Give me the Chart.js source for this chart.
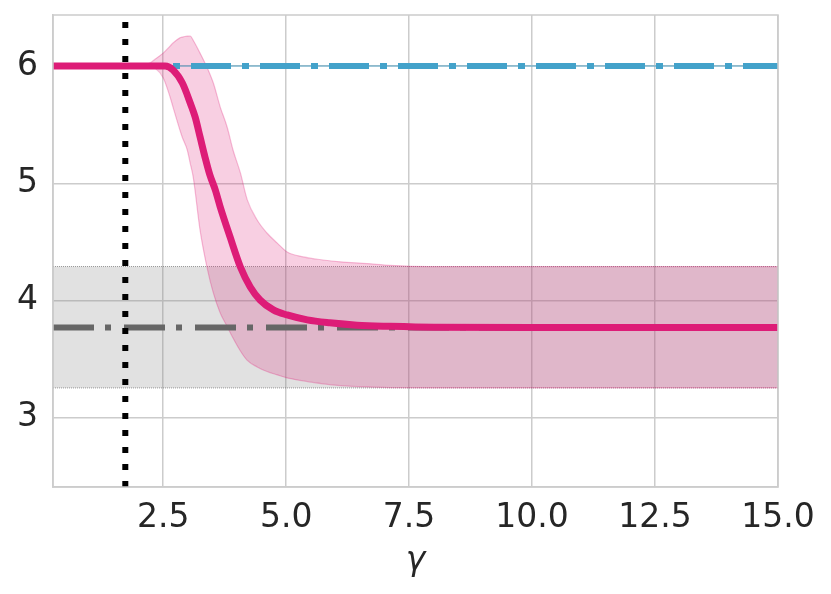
<!DOCTYPE html>
<html>
<head>
<meta charset="utf-8">
<script src="https://cdn.jsdelivr.net/npm/chart.js@4"></script>
<style>
html,body{margin:0;padding:0;background:#fff;}
#wrap{width:831px;height:594px;position:relative;}
</style>
</head>
<body>
<div id="wrap"><canvas id="c"></canvas></div>
<script>
// ---- data ----
const meanGamma = [0.26, 2.3, 2.54, 2.70, 2.89, 3.05, 3.15, 3.25, 3.35, 3.45, 3.56, 3.66, 3.86, 4.07, 4.27, 4.47, 4.74, 5.02, 5.43, 5.89, 6.44, 7.11, 8.0, 10.0, 15.0];
const meanValues = [6.0, 6.0, 6.0, 5.966, 5.855, 5.685, 5.565, 5.395, 5.224, 5.07, 4.943, 4.798, 4.542, 4.286, 4.116, 4.005, 3.92, 3.877, 3.835, 3.81, 3.79, 3.78, 3.772, 3.77, 3.77];

const bandGamma = [0.26, 2.2, 2.34, 2.5, 2.64, 2.7, 2.84, 2.89, 2.99, 3.05, 3.11, 3.25, 3.39, 3.52, 3.66, 3.80, 3.92, 4.07, 4.21, 4.41, 4.61, 4.82, 5.02, 5.35, 5.75, 6.10, 6.65, 7.11, 7.9, 9.0, 11.0, 13.0, 15.0];
const bandUpper = [6.0, 6.02, 6.06, 6.11, 6.17, 6.196, 6.24, 6.247, 6.255, 6.256, 6.22, 6.11, 5.99, 5.855, 5.65, 5.48, 5.284, 5.088, 4.858, 4.687, 4.576, 4.49, 4.414, 4.372, 4.346, 4.33, 4.315, 4.30, 4.29, 4.29, 4.29, 4.29, 4.29];
const bandLower = [6.0, 6.0, 5.98, 5.90, 5.736, 5.65, 5.454, 5.39, 5.284, 5.17, 5.054, 4.60, 4.286, 4.065, 3.894, 3.78, 3.68, 3.57, 3.49, 3.434, 3.395, 3.366, 3.34, 3.315, 3.29, 3.275, 3.263, 3.258, 3.255, 3.255, 3.255, 3.255, 3.255];

const refMean = 3.77;      // grey dash-dot level
const refUpper = 4.29;     // grey band top
const refLower = 3.255;    // grey band bottom
const blueLevel = 6.0;     // blue dash-dot level
const vlineGamma = 1.73;   // black dotted vertical

const xTicks = [2.5, 5.0, 7.5, 10.0, 12.5, 15.0];
const yTicks = [3, 4, 5, 6];
const xRange = [0.26, 15.0];
const yRange = [2.41, 6.435];

// ---- build chart ----
const pts = (xs, ys) => xs.map((x, i) => ({x: x, y: ys[i]}));
const flat = (v) => [{x: xRange[0], y: v}, {x: xRange[1], y: v}];

const PINK = '#dd1c77';
const BLUE = '#43a2ca';

const boxPlugin = {
  id: 'box',
  afterDraw(chart) {
    const a = chart.chartArea, ctx = chart.ctx;
    ctx.save();
    ctx.strokeStyle = '#cccccc';
    ctx.lineWidth = 1.5;
    ctx.strokeRect(a.left, a.top, a.right - a.left, a.bottom - a.top);
    ctx.restore();
  }
};

const FONT = "'DejaVu Sans', sans-serif";
const noPad = (s) => { s.paddingTop = 0; s.paddingBottom = 0; s.paddingLeft = 0; s.paddingRight = 0; };

new Chart(document.getElementById('c'), {
  type: 'line',
  data: {
    datasets: [
      { // black dotted vertical
        data: [{x: vlineGamma, y: yRange[0]}, {x: vlineGamma, y: yRange[1]}],
        borderColor: '#000', borderWidth: 6, borderDash: [6, 11], borderCapStyle: 'butt',
        pointRadius: 0, fill: false, order: 0
      },
      { // pink mean
        data: pts(meanGamma, meanValues),
        borderColor: PINK, borderWidth: 7, pointRadius: 0, fill: false,
        cubicInterpolationMode: 'monotone', order: 1
      },
      { // blue dash-dot thick
        data: flat(blueLevel),
        borderColor: BLUE, borderWidth: 6, borderDash: [40, 11, 7, 11], pointRadius: 0, fill: false, order: 2
      },
      { // blue thin underlay
        data: flat(blueLevel),
        borderColor: 'rgba(67,162,202,0.6)', borderWidth: 1.5, pointRadius: 0, fill: false, order: 3
      },
      { // grey dash-dot
        data: flat(refMean),
        borderColor: '#666666', borderWidth: 6, borderDash: [41, 11, 6, 13], pointRadius: 0, fill: false, order: 4
      },
      { // pink band upper
        data: pts(bandGamma, bandUpper),
        borderColor: 'rgba(221,28,119,0.28)', borderWidth: 1.2, pointRadius: 0,
        cubicInterpolationMode: 'monotone',
        backgroundColor: 'rgba(221,28,119,0.21)', fill: '+1', order: 5
      },
      { // pink band lower
        data: pts(bandGamma, bandLower),
        borderColor: 'rgba(221,28,119,0.28)', borderWidth: 1.2, pointRadius: 0,
        cubicInterpolationMode: 'monotone', fill: false, order: 6
      },
      { // grey band upper
        data: flat(refUpper),
        borderColor: 'rgba(90,90,90,0.6)', borderWidth: 1, borderDash: [1, 1], pointRadius: 0,
        backgroundColor: 'rgba(128,128,128,0.24)', fill: '+1', order: 7
      },
      { // grey band lower
        data: flat(refLower),
        borderColor: 'rgba(90,90,90,0.6)', borderWidth: 1, borderDash: [1, 1], pointRadius: 0, fill: false, order: 8
      }
    ]
  },
  options: {
    responsive: true,
    maintainAspectRatio: false,
    animation: false,
    layout: {padding: {left: 0, top: 15, right: 53, bottom: 0}},
    plugins: {legend: {display: false}, tooltip: {enabled: false}},
    elements: {line: {tension: 0}},
    scales: {
      x: {
        type: 'linear', min: xRange[0], max: xRange[1],
        afterBuildTicks: (s) => { s.ticks = xTicks.map(v => ({value: v})); },
        afterFit: (s) => { s.height = 107; noPad(s); },
        ticks: {
          color: '#262626', font: {family: FONT, size: 33}, padding: 12,
          maxRotation: 0, autoSkip: false,
          callback: (v) => Number(v).toFixed(1)
        },
        grid: {color: '#cccccc', lineWidth: 1.5, drawTicks: false},
        border: {color: '#cccccc', width: 1.5},
        title: {display: true, text: 'γ', color: '#262626',
          font: {family: FONT, size: 33, style: 'italic'}, padding: {top: 0, bottom: 13}}
      },
      y: {
        type: 'linear', min: yRange[0], max: yRange[1],
        afterBuildTicks: (s) => { s.ticks = yTicks.map(v => ({value: v})); },
        afterFit: (s) => { s.width = 53; noPad(s); },
        ticks: {color: '#262626', font: {family: FONT, size: 33}, padding: 15},
        grid: {color: '#cccccc', lineWidth: 1.5, drawTicks: false},
        border: {color: '#cccccc', width: 1.5}
      }
    }
  },
  plugins: [boxPlugin]
});
</script>
</body>
</html>
